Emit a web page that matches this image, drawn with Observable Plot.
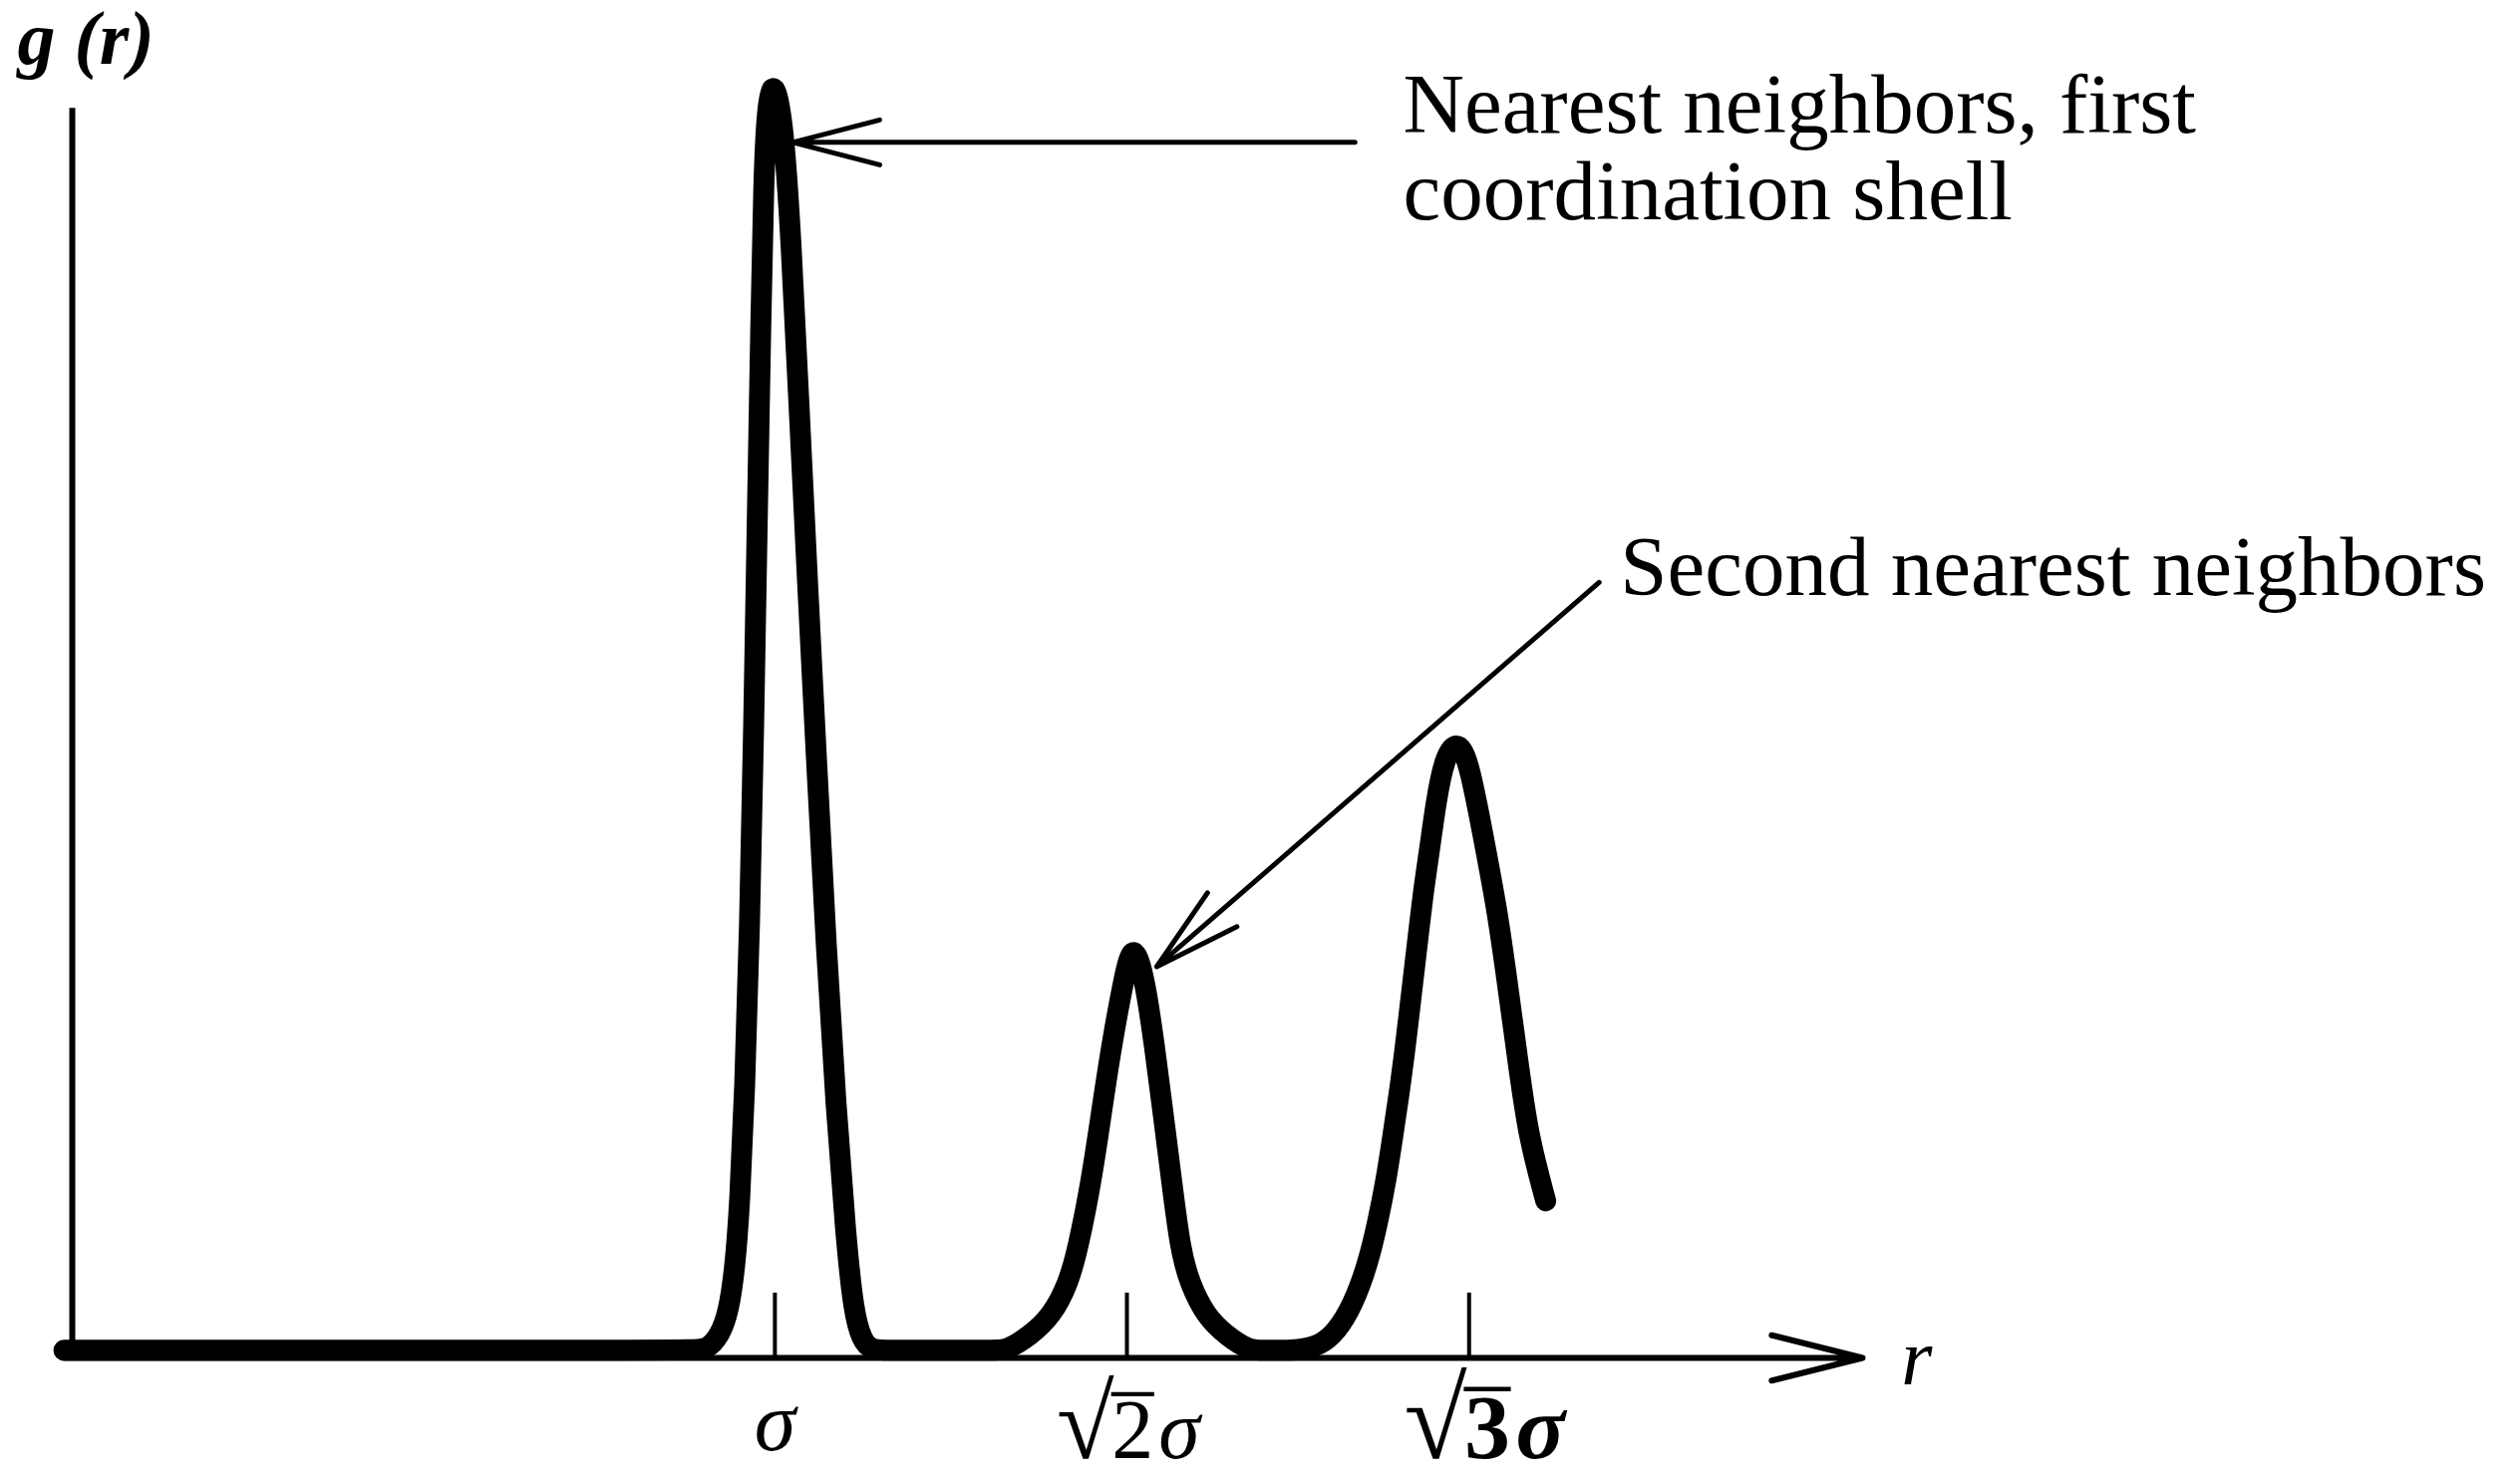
<!DOCTYPE html>
<html>
<head>
<meta charset="utf-8">
<script src="https://cdn.jsdelivr.net/npm/d3@7"></script>
<script src="https://cdn.jsdelivr.net/npm/@observablehq/plot@0.6"></script>
<style>
  html, body { margin: 0; padding: 0; background: #fff; }
  #chart svg { display: block; }
</style>
</head>
<body>
<div id="chart"></div>
<script>
// r (arbitrary units, σ tick at 1) and g(r) traced from the schematic
const curveR = [
  -0.012, 0.880, 0.904, 0.922, 0.934, 0.943, 0.950, 0.957, 0.964, 0.970, 0.975, 0.980, 0.984, 0.989, 0.996,
  1.005, 1.014, 1.023, 1.034, 1.046, 1.060, 1.073, 1.087, 1.101, 1.112, 1.124, 1.137, 1.160,
  1.310, 1.330, 1.363, 1.394, 1.418, 1.431, 1.450, 1.464, 1.478, 1.496, 1.510,
  1.527, 1.541, 1.553, 1.565, 1.577, 1.590, 1.613, 1.643, 1.675, 1.695,
  1.725, 1.742, 1.777, 1.799, 1.822, 1.844, 1.858, 1.870, 1.879, 1.888, 1.896, 1.903, 1.910, 1.917,
  1.924, 1.933, 1.941, 1.953, 1.970,
  1.987, 2.010, 2.027, 2.040, 2.060, 2.073, 2.097
];
const curveG = [
  0.020, 0.020, 0.021, 0.060, 0.120, 0.232, 0.401, 0.696, 1.118, 1.667, 2.215, 2.722, 3.101, 3.280, 3.345,
  3.310, 3.186, 2.933, 2.511, 2.047, 1.540, 1.076, 0.654, 0.317, 0.120, 0.045, 0.021, 0.020,
  0.020, 0.020, 0.058, 0.110, 0.197, 0.285, 0.459, 0.634, 0.808, 0.990, 1.100,
  0.990, 0.808, 0.634, 0.459, 0.285, 0.197, 0.110, 0.058, 0.020, 0.020,
  0.020, 0.020, 0.033, 0.069, 0.136, 0.246, 0.356, 0.467, 0.577, 0.687, 0.798, 0.908, 1.019, 1.129,
  1.239, 1.349, 1.460, 1.575, 1.620,
  1.575, 1.349, 1.184, 1.018, 0.743, 0.577, 0.412
];

// tick marks and their labels
const tickR = [1.0, 1.501, 1.988];
const tickLength = 0.17;
const tickLabels = ["σ", "√2σ", "√3σ"];
const tickLabelR = [1.0, 1.503, 2.01];
const tickLabelG = [-0.243, -0.262, -0.262];

// axes
const axisXStart = -0.012;
const axisXEnd = 2.548;
const axisYTop = 3.277;
const axisXLabel = "r";
const axisYLabel = "g (r)";

// annotations
const noteTexts = ["Nearest neighbors, first", "coordination shell", "Second nearest neighbors"];
const noteR = [1.894, 1.894, 2.203];
const noteG = [3.215, 2.987, 2.0];

// annotation arrows (from text toward peak)
const arrowR1 = [1.8255, 2.173];
const arrowG1 = [3.188, 2.034];
const arrowR2 = [1.0255, 1.5433];
const arrowG2 = [3.188, 1.026];

const curve = curveR.map((r, i) => ({r, g: curveG[i]}));
const ticks = tickR.map((r, i) => ({r, lr: tickLabelR[i], label: tickLabels[i], g: tickLabelG[i]}));
const notes = noteTexts.map((t, i) => ({t, r: noteR[i], g: noteG[i]}));
const arrows = arrowR1.map((r, i) => ({r1: r, g1: arrowG1[i], r2: arrowR2[i], g2: arrowG2[i]}));

const serif = "'Liberation Serif', 'Times New Roman', serif";

const chart = Plot.plot({
  width: 2528,
  height: 1486,
  marginLeft: 72,
  marginRight: 660,
  marginTop: 23,
  marginBottom: 124,
  x: {domain: [0, 2.548], axis: null},
  y: {domain: [0, 3.5], axis: null},
  style: {background: "#fff", overflow: "visible"},
  marks: [
    // y axis
    Plot.ruleX([0], {y1: 0, y2: axisYTop, stroke: "black", strokeWidth: 6}),
    // x axis with arrow
    Plot.arrow([{a: axisXStart, b: axisXEnd}], {
      x1: "a", x2: "b", y1: 0, y2: 0,
      stroke: "black", strokeWidth: 6, headLength: 23.5, headAngle: 28, strokeLinecap: "round"
    }),
    // ticks
    Plot.ruleX(ticks, {x: "r", y1: 0, y2: tickLength, stroke: "black", strokeWidth: 4}),
    // g(r) curve
    Plot.line(curve, {
      x: "r", y: "g", curve: "basis",
      stroke: "black", strokeWidth: 21, strokeLinecap: "round", strokeLinejoin: "round"
    }),
    // annotation arrows
    Plot.arrow(arrows, {
      x1: "r1", y1: "g1", x2: "r2", y2: "g2",
      stroke: "black", strokeWidth: 5, headLength: 27, headAngle: 29, strokeLinecap: "round"
    }),
    // tick labels
    Plot.text(ticks.slice(0, 2), {
      x: "lr", y: "g", text: "label", fontFamily: serif, fontSize: 84, fontStyle: "italic",
      textAnchor: "middle", lineAnchor: "bottom", fill: "black"
    }),
    Plot.text(ticks.slice(2), {
      x: "lr", y: "g", text: "label", fontFamily: serif, fontSize: 92, fontWeight: "bold",
      fontStyle: "italic", textAnchor: "middle", lineAnchor: "bottom", fill: "black"
    }),
    // axis labels
    Plot.text([axisXLabel], {
      x: 2.603, y: -0.068, text: d => d, fontFamily: serif, fontSize: 80, fontStyle: "italic",
      textAnchor: "start", lineAnchor: "bottom", fill: "black"
    }),
    Plot.text([axisYLabel], {
      x: -0.078, y: 3.393, text: d => d, fontFamily: serif, fontSize: 76, fontStyle: "italic",
      fontWeight: "bold", textAnchor: "start", lineAnchor: "bottom", fill: "black"
    }),
    // annotations
    Plot.text(notes, {
      x: "r", y: "g", text: "t", fontFamily: serif, fontSize: 85,
      textAnchor: "start", lineAnchor: "bottom", fill: "black"
    })
  ]
});

// typeset the radicals: larger √, a raised dash as vinculum, then the radicand
d3.select(chart).selectAll("text").each(function() {
  const el = d3.select(this);
  const s = el.text();
  if (s[0] !== "√") return;
  const digit = s[1];
  const rest = s.slice(2);
  el.text(null);
  el.append("tspan").attr("font-size", "1.25em").attr("font-style", "normal").attr("font-weight", "normal").text("√");
  el.append("tspan").attr("font-style", "normal").attr("font-weight", "normal")
    .attr("dx", "-0.03em").attr("dy", "-0.52em").text("\u2013");
  el.append("tspan").attr("font-style", "normal").attr("dx", "-0.5em").attr("dy", "0.52em").text(digit);
  el.append("tspan").attr("dx", "0.06em").text(rest);
});

document.getElementById("chart").appendChild(chart);
</script>
</body>
</html>
